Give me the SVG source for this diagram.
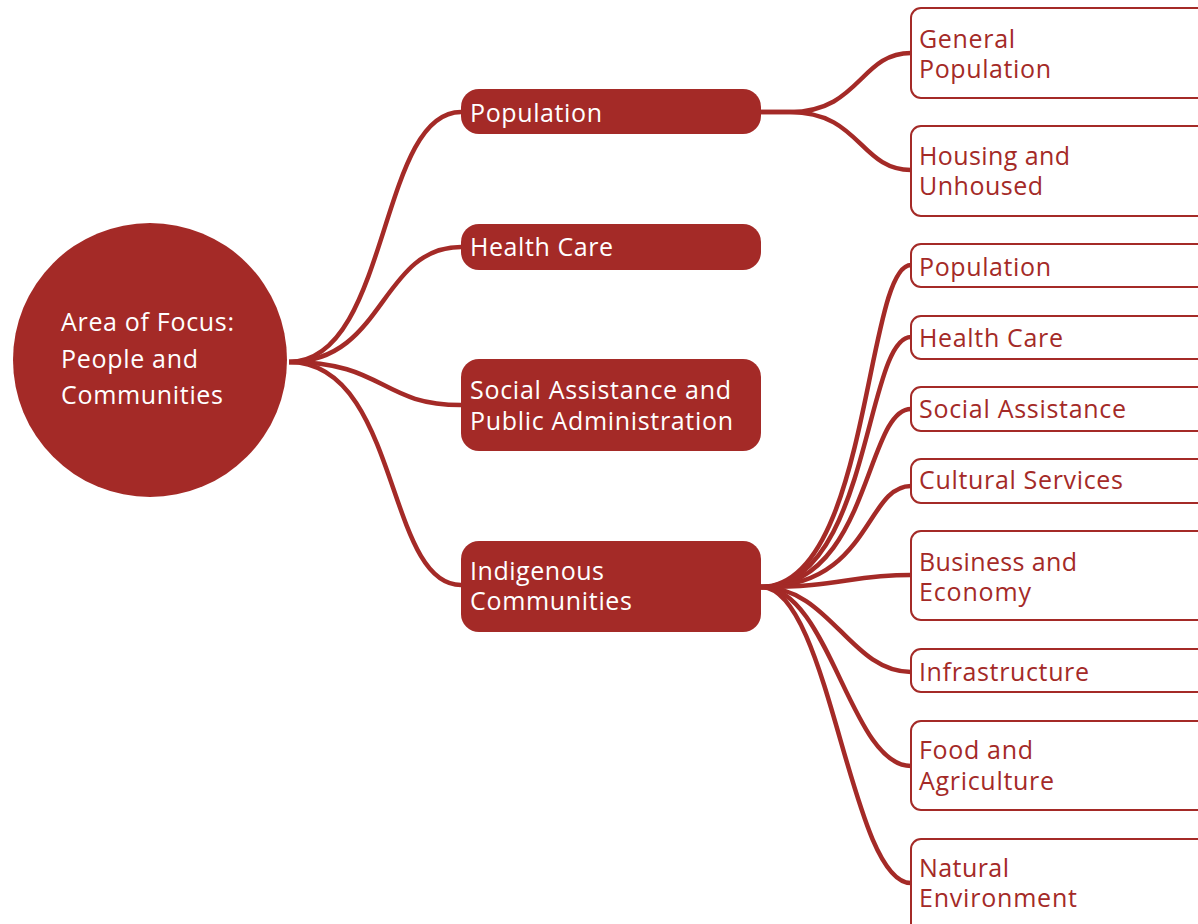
<svg xmlns="http://www.w3.org/2000/svg" width="1198" height="924" viewBox="0 0 1198 924">
<style>
.con{fill:none;stroke:#A42A27;stroke-width:4.5;stroke-linecap:butt}
.root{fill:#A42A27}
.mid{fill:#A42A27}
.leaf{fill:#FFFFFF;stroke:#A42A27;stroke-width:2}
.tw{font-family:"Open Sans","Liberation Sans",sans-serif;font-size:25px;fill:#FFFFFF}
.tr{font-family:"Open Sans","Liberation Sans",sans-serif;font-size:25px;fill:#A42A27}
</style>
<rect width="1198" height="924" fill="#FFFFFF"/>
<g id="connectors">
<path class="con" d="M289,362 C390,362 378,112 461,112"/>
<path class="con" d="M289,362 C385,362 380,247 461,247"/>
<path class="con" d="M289,362 C385,362 380,405 461,405"/>
<path class="con" d="M289,362 C400,362 385,585 461,585"/>
<path class="con" d="M761,112 L790,112 C860,112 860,53 911,53"/>
<path class="con" d="M761,112 L790,112 C860,112 860,170 911,170"/>
<path class="con" d="M761,587 C870,587 865,265 911,265"/>
<path class="con" d="M761,587 C870,587 865,337 911,337"/>
<path class="con" d="M761,587 C870,587 865,409 911,409"/>
<path class="con" d="M761,587 C870,587 865,486 911,486"/>
<path class="con" d="M761,587 C840,587 850,575 911,575"/>
<path class="con" d="M761,587 C830,587 850,672 911,672"/>
<path class="con" d="M761,587 C830,587 850,766 911,766"/>
<path class="con" d="M761,587 C830,587 850,883 911,883"/>
</g>
<g id="root">
<circle class="root" cx="150" cy="360" r="137"/>
<text class="tw" x="61" y="331" textLength="173">Area of Focus:</text>
<text class="tw" x="61" y="368" textLength="137">People and</text>
<text class="tw" x="61" y="404" textLength="162">Communities</text>
</g>
<g id="mid-population">
<rect class="mid" x="461" y="89" width="300" height="45" rx="18"/>
<text class="tw" x="470" y="122" textLength="132">Population</text>
</g>
<g id="mid-healthcare">
<rect class="mid" x="461" y="224" width="300" height="46" rx="18"/>
<text class="tw" x="470" y="256" textLength="143">Health Care</text>
</g>
<g id="mid-social">
<rect class="mid" x="461" y="359" width="300" height="92" rx="18"/>
<text class="tw" x="470" y="399" textLength="261">Social Assistance and</text>
<text class="tw" x="470" y="430" textLength="263">Public Administration</text>
</g>
<g id="mid-indigenous">
<rect class="mid" x="461" y="541" width="300" height="91" rx="18"/>
<text class="tw" x="470" y="580" textLength="134">Indigenous</text>
<text class="tw" x="470" y="610" textLength="162">Communities</text>
</g>
<g id="leaf-general-population">
<rect class="leaf" x="911" y="8" width="320" height="90" rx="10"/>
<text class="tr" x="919" y="48" textLength="96">General</text>
<text class="tr" x="919" y="78" textLength="132">Population</text>
</g>
<g id="leaf-housing">
<rect class="leaf" x="911" y="126" width="320" height="90" rx="10"/>
<text class="tr" x="919" y="165" textLength="151">Housing and</text>
<text class="tr" x="919" y="195" textLength="124">Unhoused</text>
</g>
<g id="leaf-population">
<rect class="leaf" x="911" y="244" width="320" height="43" rx="10"/>
<text class="tr" x="919" y="276" textLength="132">Population</text>
</g>
<g id="leaf-healthcare">
<rect class="leaf" x="911" y="316" width="320" height="43" rx="10"/>
<text class="tr" x="919" y="347" textLength="144">Health Care</text>
</g>
<g id="leaf-social">
<rect class="leaf" x="911" y="387" width="320" height="44" rx="10"/>
<text class="tr" x="919" y="418" textLength="207">Social Assistance</text>
</g>
<g id="leaf-cultural">
<rect class="leaf" x="911" y="459" width="320" height="44" rx="10"/>
<text class="tr" x="919" y="489" textLength="204">Cultural Services</text>
</g>
<g id="leaf-business">
<rect class="leaf" x="911" y="531" width="320" height="89" rx="10"/>
<text class="tr" x="919" y="571" textLength="158">Business and</text>
<text class="tr" x="919" y="601" textLength="112">Economy</text>
</g>
<g id="leaf-infrastructure">
<rect class="leaf" x="911" y="649" width="320" height="43" rx="10"/>
<text class="tr" x="919" y="681" textLength="170">Infrastructure</text>
</g>
<g id="leaf-food">
<rect class="leaf" x="911" y="721" width="320" height="89" rx="10"/>
<text class="tr" x="919" y="759" textLength="114">Food and</text>
<text class="tr" x="919" y="790" textLength="135">Agriculture</text>
</g>
<g id="leaf-natural">
<rect class="leaf" x="911" y="839" width="320" height="110" rx="10"/>
<text class="tr" x="919" y="877" textLength="90">Natural</text>
<text class="tr" x="919" y="907" textLength="158">Environment</text>
</g>
</svg>
